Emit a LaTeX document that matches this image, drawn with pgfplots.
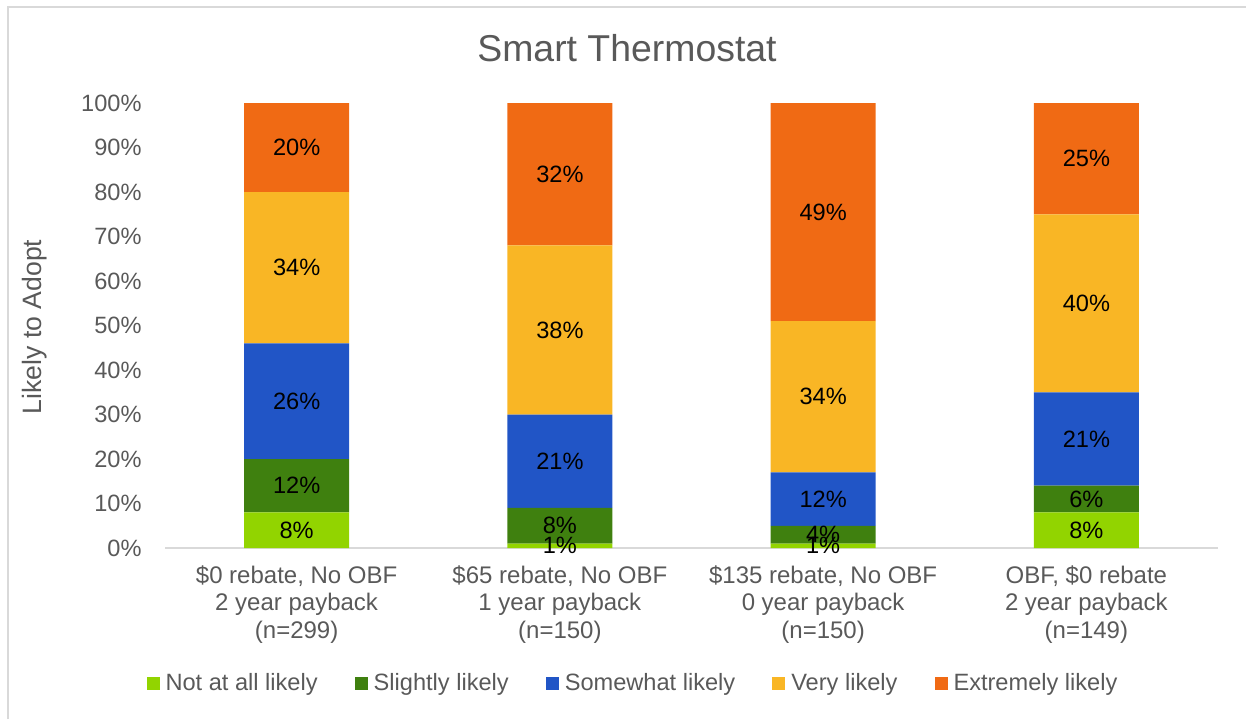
\documentclass[border=0pt]{standalone}
\usepackage{pgfplots}
\pgfplotsset{compat=1.18}
\usepackage{pgfplotstable}
\usepackage{fontspec}
\setmainfont{Liberation Sans}
\definecolor{cA}{HTML}{92D400}
\definecolor{cB}{HTML}{3F800F}
\definecolor{cC}{HTML}{2155C6}
\definecolor{cD}{HTML}{F9B625}
\definecolor{cE}{HTML}{F06A14}
\definecolor{txt}{HTML}{595959}
\definecolor{frm}{HTML}{D9D9D9}
\pgfplotstableread{
x a b c d e
0 8 12 26 34 20
1 1 8 21 38 32
2 1 4 12 34 49
3 8 6 21 40 25
}\data
\begin{document}
\begin{tikzpicture}
\useasboundingbox (0,0) rectangle (623pt,359.5pt);
\draw[frm, line width=0.75pt] (4pt,0) -- (4pt,356pt) -- (623pt,356pt);
\begin{axis}[
  at={(82.5pt,85.5pt)}, anchor=south west,
  scale only axis, width=526.5pt, height=222.5pt,
  ybar stacked, bar width=52.5pt,
  xmin=-0.5, xmax=3.5, ymin=0, ymax=100,
  clip=false,
  axis x line*=bottom, axis y line*=left,
  x axis line style={frm, line width=0.75pt},
  y axis line style={draw=none},
  major tick length=0pt,
  xtick={0,1,2,3},
  ytick={0,10,...,100},
  xticklabels={{\$0 rebate, No OBF\\2 year payback\\(n=299)},
               {\$65 rebate, No OBF\\1 year payback\\(n=150)},
               {\$135 rebate, No OBF\\0 year payback\\(n=150)},
               {OBF, \$0 rebate\\2 year payback\\(n=149)}},
  xticklabel style={align=center, inner sep=0pt, yshift=-8.5pt, text=txt,
    font=\fontsize{12}{13.75}\selectfont},
  yticklabel={\pgfmathprintnumber{\tick}\%},
  yticklabel style={inner sep=0pt, xshift=-11.5pt, text=txt,
    font=\fontsize{11.8}{14}\selectfont},
  /pgf/number format/assume math mode=true,
  point meta=explicit,
  nodes near coords={\pgfmathprintnumber[fixed,precision=0]{\pgfplotspointmeta}\%},
  every node near coord/.append style={anchor=center,
    inner sep=0pt, text=black,
    font=\fontsize{11.8}{14}\selectfont},
  legend columns=5,
  legend image code/.code={\fill[#1] (0pt,-3.25pt) rectangle (6.5pt,3.25pt);},
  legend style={draw=none, fill=none, at={(0.4435,0)}, anchor=center,
    yshift=-67.5pt, text=txt, font=\fontsize{11.8}{14}\selectfont,
    nodes={inner sep=0pt},
    /tikz/every odd column/.append style={column sep=3pt},
    /tikz/every even column/.append style={column sep=18.5pt}},
]
\addplot[fill=cA, draw=none] table[x=x, y=a, meta=a] {\data};
\addplot[fill=cB, draw=none] table[x=x, y=b, meta=b] {\data};
\addplot[fill=cC, draw=none] table[x=x, y=c, meta=c] {\data};
\addplot[fill=cD, draw=none] table[x=x, y=d, meta=d] {\data};
\addplot[fill=cE, draw=none] table[x=x, y=e, meta=e] {\data};
\legend{Not at all likely, Slightly likely, Somewhat likely, Very likely, Extremely likely}
\end{axis}
\node[text=txt, font=\fontsize{18.7}{22}\selectfont] at (313.5pt,335.5pt) {Smart Thermostat};
\node[text=txt, rotate=90, font=\fontsize{13.3}{16}\selectfont] at (17.5pt,196pt) {Likely to Adopt};
\end{tikzpicture}
\end{document}
